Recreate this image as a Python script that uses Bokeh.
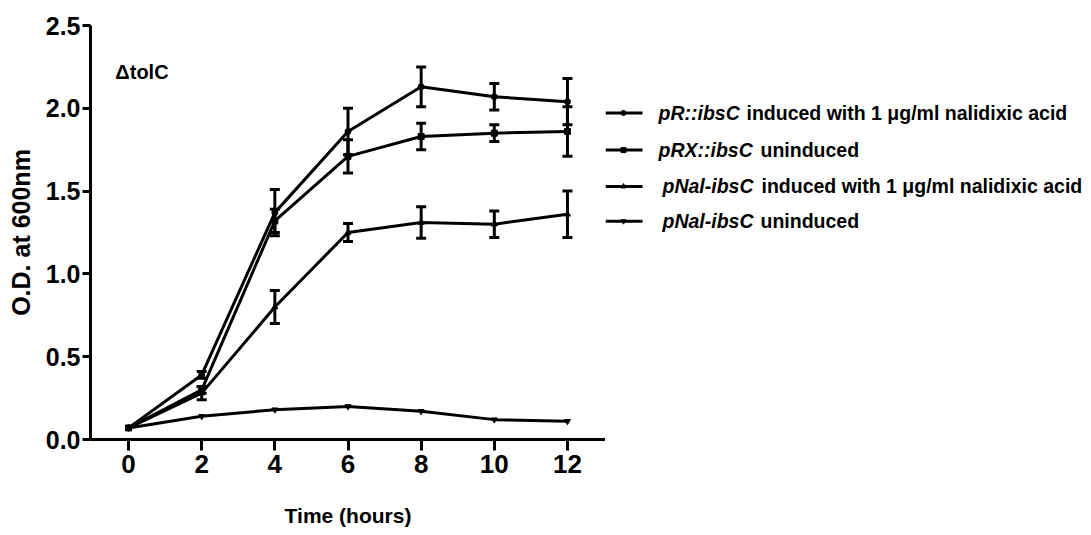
from bokeh.plotting import figure
from bokeh.models import (ColumnDataSource, Range1d, Whisker, TeeHead, Label,
                          FixedTicker, NumeralTickFormatter)
from bokeh.layouts import row
from bokeh.core.properties import value
from bokeh.embed import file_html
from bokeh.resources import INLINE

# ---------------- data ----------------
hours = [0, 2, 4, 6, 8, 10, 12]

pr_induced = [0.07, 0.39, 1.37, 1.86, 2.13, 2.07, 2.04]
pr_induced_err = [0.0, 0.02, 0.14, 0.14, 0.12, 0.08, 0.14]

prx_uninduced = [0.07, 0.30, 1.32, 1.71, 1.83, 1.85, 1.86]
prx_uninduced_err = [0.0, 0.02, 0.07, 0.10, 0.08, 0.05, 0.15]

pnal_induced = [0.07, 0.28, 0.80, 1.25, 1.31, 1.30, 1.36]
pnal_induced_err = [0.0, 0.04, 0.10, 0.055, 0.095, 0.08, 0.14]

pnal_uninduced = [0.07, 0.14, 0.18, 0.20, 0.17, 0.12, 0.11]
pnal_uninduced_err = [0.0, 0.0, 0.0, 0.0, 0.0, 0.0, 0.0]

x_ticks = [0, 2, 4, 6, 8, 10, 12]
y_ticks = [0.0, 0.5, 1.0, 1.5, 2.0, 2.5]

legend_italic = ["pR::ibsC", "pRX::ibsC", "pNal-ibsC", "pNal-ibsC"]
legend_rest = ["induced with 1 \u03bcg/ml  nalidixic acid", "uninduced",
               "induced with 1 \u03bcg/ml nalidixic acid", " uninduced"]
markers = ["circle", "square", "triangle", "inverted_triangle"]

series = [
    (pr_induced, pr_induced_err),
    (prx_uninduced, prx_uninduced_err),
    (pnal_induced, pnal_induced_err),
    (pnal_uninduced, pnal_uninduced_err),
]

FONT = "Liberation Sans"

# ---------------- main plot ----------------
p = figure(width=605, height=535, output_backend="svg", toolbar_location=None,
           x_range=Range1d(-1.04, 13.04), y_range=Range1d(0, 2.5),
           min_border_left=90, min_border_top=25, min_border_bottom=96,
           min_border_right=0)
p.outline_line_color = None
p.grid.visible = False
p.background_fill_color = "white"
p.border_fill_color = "white"

for (vals, errs), mk in zip(series, markers):
    p.line(hours, vals, line_color="black", line_width=3)
    p.scatter(hours, vals, marker=mk, size=6, color="black")
    xs = [h for h, e in zip(hours, errs) if e > 0]
    up = [v + e for v, e in zip(vals, errs) if e > 0]
    lo = [v - e for v, e in zip(vals, errs) if e > 0]
    if xs:
        src = ColumnDataSource(dict(x=xs, upper=up, lower=lo))
        w = Whisker(base="x", upper="upper", lower="lower", source=src,
                    line_color="black", line_width=3,
                    upper_head=TeeHead(size=10, line_width=3, line_color="black"),
                    lower_head=TeeHead(size=10, line_width=3, line_color="black"))
        p.add_layout(w)

# axes
p.xaxis.ticker = FixedTicker(ticks=x_ticks)
p.yaxis.ticker = FixedTicker(ticks=y_ticks)
p.yaxis.formatter = NumeralTickFormatter(format="0.0")
for ax in (p.xaxis[0], p.yaxis[0]):
    ax.axis_line_width = 3
    ax.axis_line_color = "black"
    ax.major_tick_line_width = 3
    ax.major_tick_line_color = "black"
    ax.minor_tick_line_color = None
    ax.major_tick_in = 0
    ax.major_label_text_font = FONT
    ax.major_label_text_font_style = "bold"
    ax.major_label_text_color = "black"
    ax.axis_label_text_font = FONT
    ax.axis_label_text_font_style = "bold"
    ax.axis_label_text_color = "black"

p.xaxis.major_tick_out = 11
p.xaxis.major_label_standoff = 4
p.xaxis.major_label_text_font_size = "26px"
p.xaxis.axis_label = "Time (hours)"
p.xaxis.axis_label_text_font_size = "21px"
p.xaxis.axis_label_standoff = 28

p.yaxis.major_tick_out = 8
p.yaxis.major_label_standoff = 2
p.yaxis.major_label_text_font_size = "25px"
p.yaxis.axis_label = "O.D. at 600nm"
p.yaxis.axis_label_text_font_size = "25px"
p.yaxis.axis_label_standoff = 8

p.add_layout(Label(x=-0.36, y=2.22, text="\u0394tolC", text_font=FONT,
                   text_font_style="bold", text_font_size="20px",
                   text_baseline="middle", text_color="black"))

# ---------------- legend panel ----------------
lg = figure(width=486, height=535, output_backend="svg", toolbar_location=None,
            x_range=Range1d(0, 486), y_range=Range1d(535, 0),
            x_axis_location=None, y_axis_location=None,
            min_border=0)
lg.outline_line_color = None
lg.grid.visible = False

row_y = [113, 161, 208, 253]
italic_x = [53, 53, 57, 57]
rest_x = [141, 155, 156, 155]

for yy, mk in zip(row_y, markers):
    lg.line([0, 37], [yy, yy], line_color="black", line_width=3)
    lg.scatter([18], [yy], marker=mk, size=5, color="black")

lg.text(x=italic_x, y=row_y, text=legend_italic, text_font=value(FONT),
        text_font_style="bold italic", text_font_size="19.5px",
        text_baseline="middle", text_align="left", text_color="black")
lg.text(x=rest_x, y=row_y, text=legend_rest, text_font=value(FONT),
        text_font_style="bold", text_font_size="19.5px",
        text_baseline="middle", text_align="left", text_color="black")

layout = row(p, lg)
open("out.html", "w").write(file_html(layout, INLINE))
